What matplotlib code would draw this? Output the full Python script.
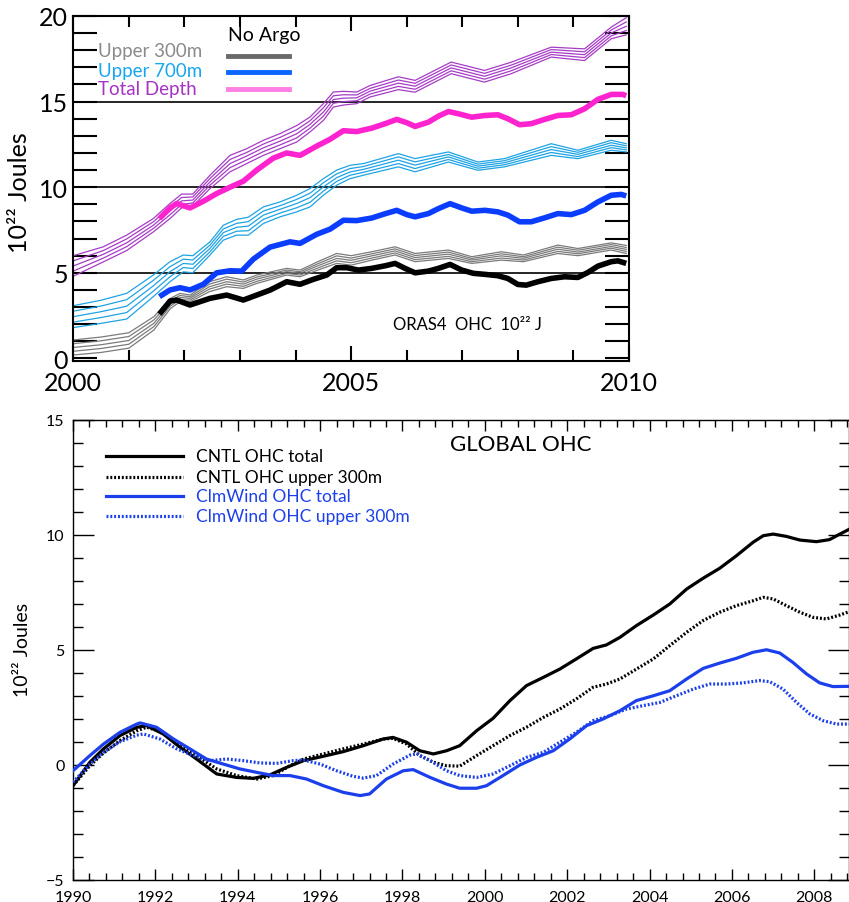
import numpy as np
import matplotlib
matplotlib.use("Agg")
import matplotlib.pyplot as plt
from matplotlib.ticker import MultipleLocator, FixedLocator

plt.rcParams['font.family'] = ['Lato', 'DejaVu Sans']

# ---------------- Top panel data (ORAS4 OHC, 10^22 J) ----------------
# Ensemble members: each row is one time knot, columns are the 5 members
T300 = [2000.0, 2000.5, 2001.0, 2001.45, 2001.75, 2001.92, 2002.1, 2002.45, 2002.76,
        2003.06, 2003.3, 2003.84, 2004.08, 2004.4, 2004.74, 2005.0, 2005.37, 2005.79,
        2006.15, 2006.75, 2007.17, 2007.7, 2008.1, 2008.72, 2009.08, 2009.68, 2009.95]
UPPER300_MEMBERS = [
    [0.20, 0.42, 0.64, 0.86, 1.08],
    [0.35, 0.58, 0.80, 1.03, 1.25],
    [0.60, 0.83, 1.05, 1.28, 1.50],
    [1.66, 1.86, 2.05, 2.25, 2.44],
    [2.92, 3.07, 3.22, 3.36, 3.51],
    [3.31, 3.43, 3.56, 3.68, 3.80],
    [3.31, 3.41, 3.51, 3.60, 3.70],
    [3.90, 4.05, 4.19, 4.34, 4.48],
    [4.19, 4.34, 4.48, 4.63, 4.77],
    [4.09, 4.21, 4.34, 4.46, 4.58],
    [4.38, 4.50, 4.63, 4.75, 4.87],
    [4.87, 4.97, 5.07, 5.16, 5.26],
    [4.77, 4.87, 4.97, 5.06, 5.16],
    [5.16, 5.28, 5.41, 5.53, 5.65],
    [5.55, 5.70, 5.84, 5.99, 6.13],
    [5.45, 5.59, 5.73, 5.86, 6.00],
    [5.74, 5.86, 5.99, 6.11, 6.23],
    [6.04, 6.16, 6.28, 6.40, 6.52],
    [5.65, 5.77, 5.89, 6.01, 6.13],
    [5.84, 5.96, 6.09, 6.21, 6.33],
    [5.55, 5.65, 5.75, 5.84, 5.94],
    [5.74, 5.86, 5.99, 6.11, 6.23],
    [5.65, 5.75, 5.85, 5.94, 6.04],
    [6.13, 6.25, 6.38, 6.50, 6.62],
    [6.00, 6.11, 6.21, 6.32, 6.42],
    [6.33, 6.44, 6.54, 6.65, 6.75],
    [6.13, 6.25, 6.37, 6.48, 6.60],
]

T700 = [2000.0, 2000.5, 2000.96, 2001.44, 2001.74, 2001.98, 2002.15, 2002.46, 2002.7,
        2002.94, 2003.15, 2003.42, 2003.72, 2004.02, 2004.26, 2004.5, 2004.74, 2004.98,
        2005.22, 2005.85, 2006.15, 2006.75, 2007.28, 2007.76, 2008.6, 2009.08, 2009.68, 2009.95]
UPPER700_MEMBERS = [
    [1.80, 2.12, 2.44, 2.76, 3.08],
    [2.05, 2.39, 2.73, 3.06, 3.40],
    [2.30, 2.68, 3.05, 3.43, 3.80],
    [3.61, 3.93, 4.24, 4.56, 4.87],
    [4.48, 4.77, 5.07, 5.36, 5.65],
    [5.06, 5.31, 5.55, 5.80, 6.04],
    [5.00, 5.25, 5.50, 5.75, 6.00],
    [6.04, 6.23, 6.43, 6.62, 6.81],
    [6.91, 7.13, 7.35, 7.56, 7.78],
    [7.20, 7.43, 7.66, 7.89, 8.12],
    [7.20, 7.46, 7.73, 7.99, 8.25],
    [7.88, 8.12, 8.37, 8.61, 8.85],
    [8.27, 8.49, 8.71, 8.92, 9.14],
    [8.56, 8.80, 9.05, 9.29, 9.53],
    [8.85, 9.12, 9.39, 9.65, 9.92],
    [9.53, 9.77, 10.02, 10.26, 10.50],
    [10.12, 10.34, 10.56, 10.78, 11.00],
    [10.50, 10.70, 10.89, 11.09, 11.28],
    [10.70, 10.87, 11.04, 11.21, 11.38],
    [11.19, 11.38, 11.58, 11.77, 11.96],
    [10.90, 11.09, 11.29, 11.48, 11.67],
    [11.47, 11.62, 11.77, 11.91, 12.06],
    [10.99, 11.11, 11.23, 11.35, 11.47],
    [11.19, 11.31, 11.43, 11.55, 11.67],
    [11.86, 12.03, 12.20, 12.37, 12.54],
    [11.67, 11.79, 11.92, 12.04, 12.16],
    [12.16, 12.31, 12.45, 12.60, 12.74],
    [12.06, 12.18, 12.30, 12.42, 12.54],
]

TTOT = [2000.0, 2000.54, 2000.96, 2001.44, 2001.74, 2001.95, 2002.15, 2002.46, 2002.82,
        2003.12, 2003.42, 2003.72, 2004.02, 2004.26, 2004.5, 2004.68, 2004.86, 2005.1,
        2005.34, 2005.85, 2006.15, 2006.8, 2007.4, 2007.88, 2008.6, 2009.2, 2009.68, 2009.95]
TOTAL_MEMBERS = [
    [4.80, 5.10, 5.40, 5.70, 6.00],
    [5.64, 5.86, 6.08, 6.30, 6.52],
    [6.30, 6.53, 6.75, 6.98, 7.20],
    [7.39, 7.59, 7.78, 7.98, 8.17],
    [8.17, 8.39, 8.61, 8.83, 9.05],
    [8.80, 9.00, 9.20, 9.40, 9.60],
    [8.90, 9.08, 9.25, 9.43, 9.60],
    [9.92, 10.12, 10.31, 10.51, 10.70],
    [10.90, 11.14, 11.38, 11.62, 11.86],
    [11.38, 11.60, 11.82, 12.03, 12.25],
    [11.86, 12.08, 12.30, 12.52, 12.74],
    [12.25, 12.47, 12.69, 12.91, 13.13],
    [12.64, 12.88, 13.12, 13.36, 13.60],
    [13.23, 13.45, 13.67, 13.88, 14.10],
    [13.90, 14.15, 14.39, 14.64, 14.88],
    [14.68, 14.90, 15.12, 15.34, 15.56],
    [14.80, 15.00, 15.20, 15.40, 15.60],
    [14.88, 15.05, 15.22, 15.39, 15.56],
    [15.27, 15.44, 15.61, 15.77, 15.94],
    [15.70, 15.89, 16.08, 16.26, 16.45],
    [15.55, 15.72, 15.90, 16.07, 16.24],
    [16.63, 16.80, 16.97, 17.14, 17.31],
    [16.14, 16.31, 16.48, 16.65, 16.82],
    [16.63, 16.80, 16.97, 17.13, 17.30],
    [17.60, 17.75, 17.89, 18.04, 18.18],
    [17.40, 17.57, 17.74, 17.91, 18.08],
    [18.67, 18.84, 19.01, 19.18, 19.35],
    [18.90, 19.15, 19.40, 19.65, 19.90],
]

# "No Argo" runs
T_NA300 = [2001.55, 2001.74, 2001.86, 2002.1, 2002.46, 2002.76, 2003.06, 2003.3, 2003.54,
           2003.84, 2004.08, 2004.32, 2004.56, 2004.74, 2004.92, 2005.13, 2005.37, 2005.61,
           2005.79, 2005.97, 2006.15, 2006.39, 2006.57, 2006.78, 2006.99, 2007.2, 2007.41,
           2007.64, 2007.82, 2008.0, 2008.15, 2008.36, 2008.6, 2008.84, 2009.08, 2009.26,
           2009.44, 2009.68, 2009.8, 2009.95]
NOARGO_300 = [2.59, 3.35, 3.41, 3.12, 3.51, 3.70, 3.41, 3.70, 3.99,
              4.48, 4.33, 4.62, 4.87, 5.30, 5.30, 5.16, 5.26, 5.41,
              5.55, 5.26, 5.00, 5.10, 5.26, 5.49, 5.16, 4.97, 4.91,
              4.83, 4.67, 4.32, 4.28, 4.48, 4.67, 4.77, 4.73, 5.02,
              5.39, 5.65, 5.70, 5.55]

T_NA700 = [2001.55, 2001.74, 2001.92, 2002.1, 2002.34, 2002.58, 2002.82, 2003.03, 2003.24,
           2003.54, 2003.9, 2004.08, 2004.38, 2004.62, 2004.86, 2005.1, 2005.37, 2005.61,
           2005.82, 2006.0, 2006.15, 2006.39, 2006.57, 2006.78, 2006.99, 2007.17, 2007.41,
           2007.64, 2007.82, 2008.03, 2008.24, 2008.48, 2008.72, 2008.96, 2009.2, 2009.44,
           2009.68, 2009.86, 2009.95]
NOARGO_700 = [3.61, 4.00, 4.13, 4.00, 4.33, 5.00, 5.12, 5.10, 5.80,
              6.50, 6.81, 6.72, 7.25, 7.55, 8.07, 8.05, 8.20, 8.45,
              8.65, 8.40, 8.27, 8.46, 8.75, 9.04, 8.79, 8.60, 8.65,
              8.56, 8.37, 7.98, 7.98, 8.21, 8.46, 8.40, 8.65, 9.14,
              9.53, 9.58, 9.49]

T_NATOT = [2001.55, 2001.74, 2001.86, 2002.1, 2002.34, 2002.58, 2002.82, 2003.06, 2003.3,
           2003.6, 2003.84, 2004.08, 2004.38, 2004.62, 2004.86, 2005.1, 2005.37, 2005.61,
           2005.82, 2006.0, 2006.15, 2006.39, 2006.57, 2006.75, 2006.93, 2007.17, 2007.41,
           2007.64, 2007.82, 2008.03, 2008.24, 2008.48, 2008.72, 2008.96, 2009.2, 2009.44,
           2009.68, 2009.89, 2009.95]
NOARGO_TOT = [8.17, 8.79, 9.05, 8.79, 9.18, 9.63, 10.00, 10.35, 11.00,
              11.70, 12.00, 11.86, 12.40, 12.80, 13.30, 13.25, 13.45, 13.71,
              13.96, 13.77, 13.55, 13.80, 14.15, 14.42, 14.29, 14.09, 14.19,
              14.23, 14.00, 13.65, 13.71, 13.96, 14.19, 14.23, 14.58, 15.13,
              15.42, 15.42, 15.34]

TOP_LEGEND = ["Upper 300m", "Upper 700m", "Total Depth"]
TOP_XTICKS = [2000, 2005, 2010]
TOP_YTICKS = [0, 5, 10, 15, 20]

# ---------------- Bottom panel data (GLOBAL OHC) ----------------
T_CNTL_TOT = [1990.0, 1990.41, 1990.74, 1991.14, 1991.55, 1991.79, 1992.19, 1992.6, 1993.0,
              1993.49, 1993.97, 1994.38, 1994.78, 1995.19, 1995.6, 1996.08, 1996.56, 1997.05,
              1997.53, 1997.77, 1998.1, 1998.42, 1998.75, 1999.07, 1999.39, 1999.8, 2000.2,
              2000.61, 2001.01, 2001.42, 2001.82, 2002.22, 2002.63, 2002.95, 2003.28, 2003.68,
              2004.09, 2004.49, 2004.9, 2005.3, 2005.7, 2006.11, 2006.51, 2006.76, 2007.0,
              2007.32, 2007.65, 2008.05, 2008.37, 2008.62, 2008.85]
CNTL_TOTAL = [-0.90, 0.12, 0.70, 1.28, 1.64, 1.71, 1.35, 0.77, 0.26,
              -0.39, -0.54, -0.58, -0.43, -0.10, 0.19, 0.38, 0.58, 0.84,
              1.13, 1.20, 0.99, 0.62, 0.48, 0.62, 0.84, 1.49, 2.03,
              2.80, 3.45, 3.81, 4.17, 4.61, 5.07, 5.22, 5.55, 6.06,
              6.52, 7.00, 7.65, 8.12, 8.55, 9.10, 9.68, 9.97, 10.04,
              9.94, 9.78, 9.71, 9.80, 10.04, 10.25]

T_CNTL_300 = [1990.0, 1990.41, 1990.74, 1991.14, 1991.55, 1991.79, 1992.19, 1992.6, 1993.0,
              1993.49, 1993.97, 1994.46, 1994.86, 1995.27, 1995.6, 1996.08, 1996.56, 1997.05,
              1997.53, 1997.77, 1998.1, 1998.42, 1998.75, 1999.07, 1999.39, 1999.8, 2000.2,
              2000.61, 2001.01, 2001.42, 2001.82, 2002.22, 2002.63, 2002.95, 2003.28, 2003.68,
              2004.09, 2004.49, 2004.9, 2005.3, 2005.7, 2006.11, 2006.51, 2006.76, 2007.0,
              2007.32, 2007.65, 2007.97, 2008.29, 2008.62, 2008.85]
CNTL_300 = [-0.90, -0.03, 0.52, 1.06, 1.49, 1.64, 1.42, 0.84, 0.41,
            -0.17, -0.46, -0.61, -0.46, -0.03, 0.26, 0.48, 0.70, 0.91,
            1.13, 1.16, 0.91, 0.41, 0.12, -0.03, -0.05, 0.41, 0.84,
            1.28, 1.64, 2.07, 2.43, 2.87, 3.38, 3.52, 3.74, 4.17,
            4.61, 5.19, 5.77, 6.28, 6.64, 6.93, 7.14, 7.29, 7.22,
            6.93, 6.64, 6.42, 6.35, 6.52, 6.67]

T_CLM_TOT = [1990.0, 1990.41, 1990.74, 1991.14, 1991.55, 1991.63, 1992.03, 1992.44, 1992.84,
             1993.24, 1993.65, 1994.05, 1994.46, 1994.86, 1995.27, 1995.67, 1996.08, 1996.56,
             1996.97, 1997.2, 1997.61, 1998.02, 1998.26, 1998.67, 1999.07, 1999.39, 1999.8,
             2000.04, 2000.44, 2000.85, 2001.25, 2001.66, 2002.06, 2002.47, 2002.87, 2003.28,
             2003.68, 2004.09, 2004.49, 2004.9, 2005.3, 2005.7, 2006.11, 2006.51, 2006.84,
             2007.16, 2007.48, 2007.81, 2008.13, 2008.45, 2008.85]
CLMWIND_TOTAL = [-0.25, 0.41, 0.91, 1.42, 1.78, 1.83, 1.64, 1.13, 0.70,
                 0.26, 0.04, -0.17, -0.32, -0.46, -0.46, -0.61, -0.90, -1.19,
                 -1.33, -1.26, -0.61, -0.25, -0.20, -0.54, -0.83, -1.01, -1.01,
                 -0.90, -0.46, 0.00, 0.33, 0.62, 1.13, 1.71, 2.00, 2.36,
                 2.80, 3.01, 3.23, 3.74, 4.20, 4.43, 4.64, 4.90, 5.01,
                 4.87, 4.46, 3.96, 3.57, 3.41, 3.42]

T_CLM_300 = [1990.0, 1990.41, 1990.74, 1991.14, 1991.55, 1991.71, 1992.11, 1992.52, 1992.92,
             1993.33, 1993.73, 1994.13, 1994.54, 1994.94, 1995.35, 1995.59, 1996.0, 1996.4,
             1996.8, 1997.05, 1997.37, 1997.77, 1998.18, 1998.35, 1998.67, 1999.07, 1999.39,
             1999.8, 2000.2, 2000.61, 2001.01, 2001.42, 2001.82, 2002.22, 2002.63, 2003.03,
             2003.44, 2003.84, 2004.25, 2004.65, 2005.06, 2005.46, 2005.87, 2006.27, 2006.67,
             2006.92, 2007.24, 2007.57, 2007.89, 2008.21, 2008.54, 2008.85]
CLMWIND_300 = [-0.75, 0.04, 0.55, 1.01, 1.30, 1.35, 1.13, 0.70, 0.41,
               0.19, 0.26, 0.19, 0.09, 0.07, 0.19, 0.22, 0.04, -0.25,
               -0.49, -0.57, -0.46, 0.04, 0.43, 0.48, 0.19, -0.25, -0.46,
               -0.54, -0.39, -0.03, 0.33, 0.55, 0.99, 1.42, 1.93, 2.14,
               2.43, 2.58, 2.72, 3.01, 3.30, 3.52, 3.52, 3.57, 3.67,
               3.62, 3.30, 2.72, 2.22, 1.93, 1.78, 1.78]

BOTTOM_LEGEND = ["CNTL OHC total", "CNTL OHC upper 300m", "ClmWind OHC total", "ClmWind OHC upper 300m"]
BOTTOM_XTICKS = list(range(1990, 2009, 2))
BOTTOM_YTICKS = [-5, 0, 5, 10, 15]

# ---------------- Styles ----------------
GREY_ENS = '#7b7b7b'
CYAN_ENS = '#1ea3e4'
PURPLE_ENS = '#a63cc6'
NA_BLACK = '#000000'
NA_BLUE = '#0b3dff'
NA_MAGENTA = '#ff22cf'
BLUE2 = '#1c3fec'

W, H = 849, 903
fig = plt.figure(figsize=(W / 100, H / 100), dpi=100)

def px_axes(x0, y0, x1, y1):
    return fig.add_axes([x0 / W, 1 - y1 / H, (x1 - x0) / W, (y1 - y0) / H])

# ================= TOP PANEL =================
ax1 = px_axes(73.3, 17, 629, 362)
ax1.set_xlim(2000, 2010)
ax1.set_ylim(-0.15, 20.0)

for yv in (5, 10, 15):
    ax1.axhline(yv, color='black', lw=1.2, zorder=1)

for table, times, col in ((UPPER300_MEMBERS, T300, GREY_ENS),
                          (UPPER700_MEMBERS, T700, CYAN_ENS),
                          (TOTAL_MEMBERS, TTOT, PURPLE_ENS)):
    arr = np.array(table).T
    for member in arr:
        ax1.plot(times, member, color=col, lw=0.9, zorder=2)

ax1.plot(T_NA300, NOARGO_300, color=NA_BLACK, lw=4, solid_capstyle='butt', zorder=3)
ax1.plot(T_NA700, NOARGO_700, color=NA_BLUE, lw=4, solid_capstyle='butt', zorder=3)
ax1.plot(T_NATOT, NOARGO_TOT, color=NA_MAGENTA, lw=4, solid_capstyle='butt', zorder=3)

ax1.xaxis.set_major_locator(FixedLocator(TOP_XTICKS))
ax1.xaxis.set_minor_locator(MultipleLocator(1))
ax1.yaxis.set_major_locator(FixedLocator(TOP_YTICKS))
ax1.yaxis.set_minor_locator(MultipleLocator(1))
ax1.tick_params(axis='x', which='major', direction='in', length=11, width=1.5,
                top=True, labelsize=18, pad=7)
ax1.tick_params(axis='x', which='minor', direction='in', length=8, width=1.5, top=True)
ax1.tick_params(axis='y', which='both', direction='in', length=17, width=1.5,
                right=True, labelsize=18, pad=4)
for s in ax1.spines.values():
    s.set_linewidth(1.5)

# legend (top panel)
leg_text_cols = ['#8a8a8a', '#18a6ee', '#a632c6']
leg_line_cols = ['#6a6a6a', '#0a66ff', '#ff80e4']
leg_y = [52, 71, 90]
line_y = [57, 73, 90]
fig.text(228 / W, 1 - 36 / H, "No Argo", fontsize=14, color='black', ha='left', va='center')
for lab, tc, lc, ty, ly in zip(TOP_LEGEND, leg_text_cols, leg_line_cols, leg_y, line_y):
    fig.text(98 / W, 1 - ty / H, lab, fontsize=13.5, color=tc, ha='left', va='center')
    fig.add_artist(plt.Line2D([228 / W, 289 / W], [1 - ly / H, 1 - ly / H],
                              color=lc, lw=3.5, transform=fig.transFigure))

fig.text(393 / W, 1 - 325 / H, "ORAS4  OHC  10²² J", fontsize=12, ha='left', va='center')
fig.text(20 / W, 1 - 193 / H, "10²² Joules", fontsize=18, rotation=90, ha='center', va='center')

# ================= BOTTOM PANEL =================
ax2 = px_axes(73, 421, 848.5, 881)
ax2.set_xlim(1990, 2008.83)
ax2.set_ylim(-5, 15)

ax2.plot(T_CNTL_TOT, CNTL_TOTAL, color='black', lw=2.3, zorder=3)
ax2.plot(T_CNTL_300, CNTL_300, color='black', lw=2.3, linestyle=(0, (0.6, 0.6)), zorder=3)
ax2.plot(T_CLM_TOT, CLMWIND_TOTAL, color=BLUE2, lw=2.3, zorder=3)
ax2.plot(T_CLM_300, CLMWIND_300, color=BLUE2, lw=2.3, linestyle=(0, (0.6, 0.6)), zorder=3)

ax2.xaxis.set_major_locator(FixedLocator(BOTTOM_XTICKS))
ax2.xaxis.set_minor_locator(MultipleLocator(0.4))
ax2.yaxis.set_major_locator(FixedLocator(BOTTOM_YTICKS))
ax2.yaxis.set_minor_locator(MultipleLocator(1))
ax2.tick_params(axis='x', which='major', direction='in', length=8, width=1,
                top=True, labelsize=11.5, pad=7)
ax2.tick_params(axis='x', which='minor', direction='in', length=5, width=1, top=True)
ax2.tick_params(axis='y', which='major', direction='in', length=15, width=1,
                right=True, labelsize=11.5, pad=6)
ax2.tick_params(axis='y', which='minor', direction='in', length=7, width=1, right=True)
for s in ax2.spines.values():
    s.set_linewidth(1.0)

styles = [('black', '-'), ('black', (0, (0.6, 0.6))), (BLUE2, '-'), (BLUE2, (0, (0.6, 0.6)))]
rows = [457, 478, 497, 517]
for lab, (c, ls), ry in zip(BOTTOM_LEGEND, styles, rows):
    fig.add_artist(plt.Line2D([106 / W, 183 / W], [1 - ry / H, 1 - ry / H], color=c, lw=2.3,
                              linestyle=ls, transform=fig.transFigure))
    fig.text(196 / W, 1 - ry / H, lab, fontsize=12.5, color=c, ha='left', va='center')

fig.text(521 / W, 1 - 445 / H, "GLOBAL OHC", fontsize=16, ha='center', va='center')
fig.text(23 / W, 1 - 650 / H, "10²² Joules", fontsize=14, rotation=90, ha='center', va='center')

fig.savefig("out.png", dpi=100)
